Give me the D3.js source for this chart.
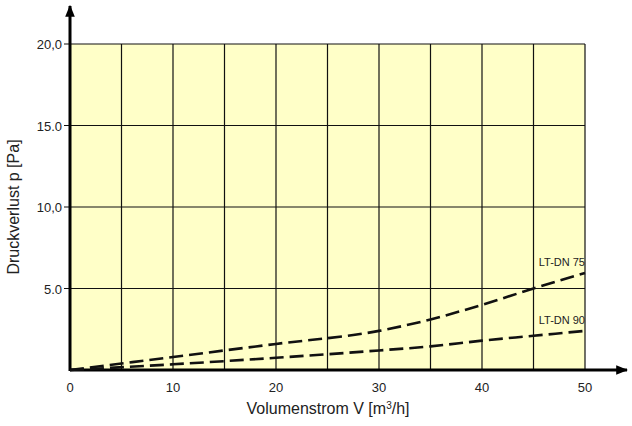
<!DOCTYPE html>
<html>
<head>
<meta charset="utf-8">
<script src="https://cdn.jsdelivr.net/npm/d3@7"></script>
<style>
  body { margin: 0; background: #fff; }
  text { font-family: "Liberation Sans Narrow", "Liberation Sans", sans-serif; fill: #222; }
</style>
</head>
<body>
<svg class="main-svg" width="632" height="426"></svg>
<script>
// data
const flow = [0, 10, 20, 30, 35, 40, 45, 50]
const dn75 = [0, 0.8, 1.6, 2.4, 3.1, 4.0, 5.0, 5.95]
const dn90 = [0, 0.35, 0.75, 1.2, 1.45, 1.8, 2.1, 2.4]
const xTicks = [0, 10, 20, 30, 40, 50]
const yTicks = [5, 10, 15, 20]
const yTickLabels = ['5.0', '10,0', '15.0', '20,0']
const seriesNames = ['LT-DN 75', 'LT-DN 90']

const svg = d3.select('.main-svg')
const x = d3.scaleLinear().domain([0, 50]).range([70, 585])
const y = d3.scaleLinear().domain([0, 20]).range([370, 44])

// background
svg.append('rect')
  .attr('x', x(0)).attr('y', y(20))
  .attr('width', x(50) - x(0)).attr('height', y(0) - y(20))
  .attr('fill', '#ffffc8')

// grid
const g = svg.append('g').attr('stroke', '#111').attr('stroke-width', 1.2)
d3.range(5, 51, 5).forEach(v => {
  g.append('line').attr('x1', x(v)).attr('x2', x(v)).attr('y1', y(0)).attr('y2', y(20))
})
yTicks.forEach(v => {
  g.append('line').attr('x1', x(0) - 6).attr('x2', x(50)).attr('y1', y(v)).attr('y2', y(v))
})

// axes with arrows
svg.append('defs').append('marker')
  .attr('id', 'arr').attr('viewBox', '0 0 10 10').attr('refX', 9).attr('refY', 5)
  .attr('markerWidth', 4).attr('markerHeight', 4).attr('orient', 'auto')
  .append('path').attr('d', 'M0,1 L10,5 L0,9 Z').attr('fill', '#000')
svg.append('line').attr('x1', x(0)).attr('x2', 627).attr('y1', y(0)).attr('y2', y(0))
  .attr('stroke', '#000').attr('stroke-width', 3).attr('marker-end', 'url(#arr)')
svg.append('line').attr('x1', x(0)).attr('x2', x(0)).attr('y1', y(0) + 1).attr('y2', 6)
  .attr('stroke', '#000').attr('stroke-width', 3).attr('marker-end', 'url(#arr)')

// tick labels
svg.selectAll('.xt').data(xTicks).enter().append('text')
  .attr('x', d => x(d)).attr('y', y(0) + 22)
  .attr('text-anchor', 'middle').attr('font-size', 13).text(d => d)
svg.selectAll('.yt').data(yTicks).enter().append('text')
  .attr('x', x(0) - 8).attr('y', d => y(d) + 5)
  .attr('text-anchor', 'end').attr('font-size', 13).text((d, i) => yTickLabels[i])

// titles
svg.append('text').attr('x', 328).attr('y', 414).attr('text-anchor', 'middle')
  .attr('font-size', 16).html('Volumenstrom V [m<tspan font-size="10" dy="-5">3</tspan><tspan dy="5">/h]</tspan>')
svg.append('text').attr('transform', `translate(19,${y(10)}) rotate(-90)`)
  .attr('text-anchor', 'middle').attr('font-size', 16).text('Druckverlust p [Pa]')

// curves
const line = d3.line().x((d, i) => x(flow[i])).y(d => y(d)).curve(d3.curveMonotoneX)
;[dn75, dn90].forEach((s, k) => {
  svg.append('path').datum(s).attr('d', line)
    .attr('fill', 'none').attr('stroke', '#111').attr('stroke-width', 2.6)
    .attr('stroke-dasharray', '14,6')
  svg.append('text').attr('x', x(50)).attr('y', y(s[s.length - 1]) - 7)
    .attr('text-anchor', 'end').attr('font-size', 11).text(seriesNames[k])
})
</script>
</body>
</html>
